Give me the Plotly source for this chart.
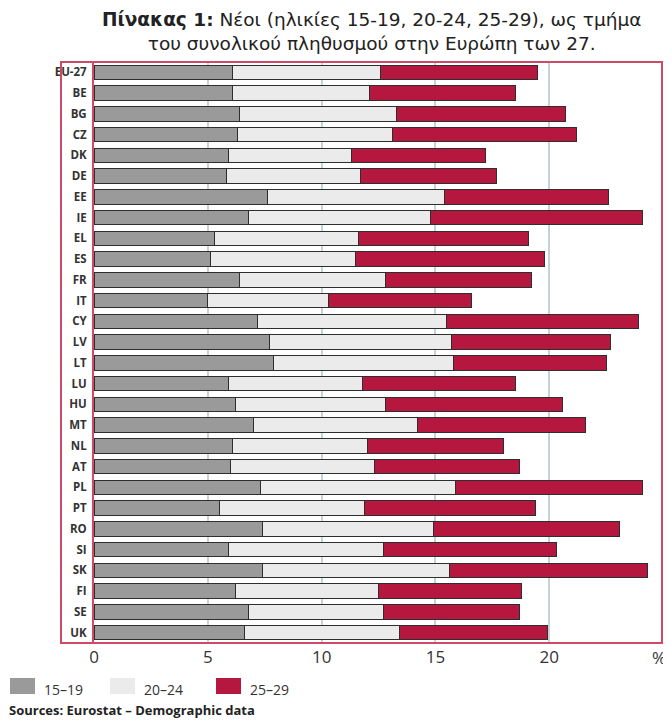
import plotly.graph_objects as go

countries = ["EU-27", "BE", "BG", "CZ", "DK", "DE", "EE", "IE", "EL", "ES", "FR", "IT", "CY", "LV",
             "LT", "LU", "HU", "MT", "NL", "AT", "PL", "PT", "RO", "SI", "SK", "FI", "SE", "UK"]
age_15_19 = [6.1, 6.1, 6.4, 6.3, 5.9, 5.8, 7.6, 6.8, 5.3, 5.1, 6.4, 5.0, 7.2, 7.7,
             7.9, 5.9, 6.2, 7.0, 6.1, 6.0, 7.3, 5.5, 7.4, 5.9, 7.4, 6.2, 6.8, 6.6]
age_20_24 = [6.5, 6.0, 6.9, 6.8, 5.4, 5.9, 7.8, 8.0, 6.3, 6.4, 6.4, 5.3, 8.3, 8.0,
             7.9, 5.9, 6.6, 7.2, 5.9, 6.3, 8.6, 6.4, 7.5, 6.8, 8.2, 6.3, 5.9, 6.8]
age_25_29 = [6.9, 6.4, 7.4, 8.1, 5.9, 6.0, 7.2, 9.3, 7.5, 8.3, 6.4, 6.3, 8.4, 7.0,
             6.7, 6.7, 7.8, 7.4, 6.0, 6.4, 8.2, 7.5, 8.2, 7.6, 8.7, 6.3, 6.0, 6.5]
series_names = ["15–19", "20–24", "25–29"]
x_ticks = [0, 5, 10, 15, 20]

colors = ["#9a9a9a", "#ebebeb", "#b5173f"]
frame_col = "#cf4a66"

fig = go.Figure()
for name, vals, col in zip(series_names, [age_15_19, age_20_24, age_25_29], colors):
    fig.add_trace(go.Bar(
        y=countries, x=vals, name=name, orientation="h",
        marker=dict(color=col, line=dict(color="#2e2e2e", width=1)),
        showlegend=False,
    ))

# the page body adds an 8px margin; layout is planned in page pixels
OFF = 8
W, H = 671 - OFF, 720 - OFF
left, right, top, bottom = 94, 662, 62, 643   # plot area in page pixels
ml, mr, mt, mb = left - OFF, W - (right - OFF), top - OFF, H - (bottom - OFF)
pw = W - ml - mr
ph = H - mt - mb

def px(x):
    return (x - OFF - ml) / pw

def py(y):
    return (H - mb - (y - OFF)) / ph

fig.update_layout(
    width=W, height=H,
    margin=dict(l=ml, r=mr, t=mt, b=mb, autoexpand=False),
    barmode="stack", bargap=0.31,
    plot_bgcolor="white", paper_bgcolor="white",
    font=dict(family="Open Sans", color="#333333"),
    xaxis=dict(range=[0, 24.95], tickvals=x_ticks, ticktext=[str(v) for v in x_ticks],
               showgrid=True, gridcolor="#c7d1d8", gridwidth=1.5, zeroline=False,
               showline=False, ticks="", tickfont=dict(size=17, color="#333333"),
               ticklabelstandoff=2, automargin=False),
    yaxis=dict(autorange="reversed", showgrid=False, zeroline=False,
               showline=True, linecolor=frame_col, linewidth=2, ticks="",
               tickfont=dict(size=11.5, color="#333333", weight="bold"),
               ticklabelstandoff=3, automargin=False),
)

# frame around chart incl. category labels
fig.add_shape(type="rect", xref="paper", yref="paper", x0=px(61), x1=1, y0=0, y1=1,
              line=dict(color=frame_col, width=2), fillcolor="rgba(0,0,0,0)", layer="above")

# % sign at end of axis
fig.add_annotation(xref="paper", yref="paper", x=px(659), y=py(657), text="%",
                   showarrow=False, xanchor="center", yanchor="middle",
                   font=dict(size=17, color="#333333"))

# Title
fig.add_annotation(xref="paper", yref="paper", x=px(371), y=py(31),
                   text="<b>Πίνακας 1:</b> Νέοι (ηλικίες 15-19, 20-24, 25-29), ως τμήμα<br>του συνολικού πληθυσμού στην Ευρώπη των 27.",
                   showarrow=False, xanchor="center", yanchor="middle",
                   font=dict(family="DejaVu Sans", size=18.5, color="#222222"))

# Manual legend
leg_x = [10, 110, 216]
for lx, name, col in zip(leg_x, series_names, colors):
    fig.add_shape(type="rect", xref="paper", yref="paper",
                  x0=px(lx), x1=px(lx + 25), y0=py(694), y1=py(678),
                  line=dict(width=0), fillcolor=col)
    fig.add_annotation(xref="paper", yref="paper", x=px(lx + 32), y=py(689),
                       text=name, showarrow=False, xanchor="left", yanchor="middle",
                       font=dict(size=14, color="#333333"))

fig.add_annotation(xref="paper", yref="paper", x=px(7), y=py(710),
                   text="<b>Sources: Eurostat – Demographic data</b>", showarrow=False,
                   xanchor="left", yanchor="middle",
                   font=dict(size=13, color="#222222"))

fig.write_html("out.html")
